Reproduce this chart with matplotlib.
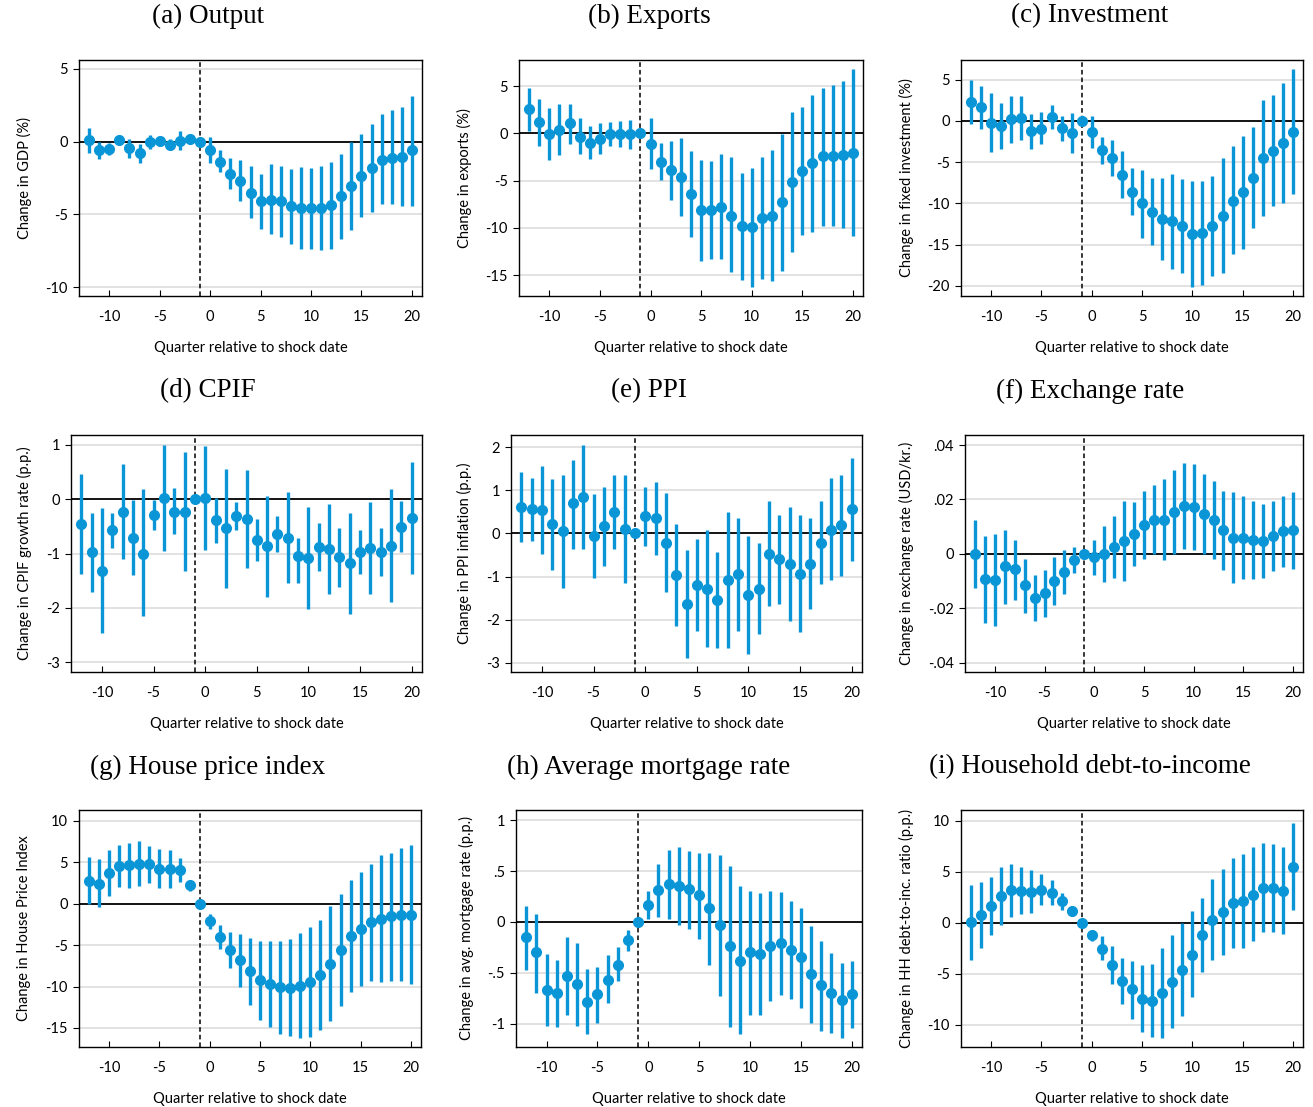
import numpy as np
import matplotlib
matplotlib.use("Agg")
import matplotlib.pyplot as plt

plt.rcParams["axes.unicode_minus"] = False

# event-time horizons (quarters relative to the shock)
quarters = list(range(-12, 21))

# estimated responses and 95% bands, one triple per outcome
gdp_b  = [0.1, -0.55, -0.5, 0.1, -0.45, -0.8, -0.05, 0.05, -0.25, 0.05, 0.2, 0.0,
          -0.55, -1.4, -2.2, -2.7, -3.5, -4.1, -4.0, -4.1, -4.45, -4.55, -4.55, -4.55,
          -4.35, -3.75, -3.05, -2.35, -1.8, -1.25, -1.15, -1.05, -0.6]
gdp_hi = [0.9, 0.0, -0.1, 0.3, 0.15, -0.15, 0.45, 0.3, 0.15, 0.7, 0.45, 0.0,
          0.3, -0.6, -1.1, -1.25, -1.7, -2.25, -1.55, -1.65, -1.9, -1.75, -1.8, -1.65,
          -1.4, -0.85, 0.0, 0.55, 1.2, 1.9, 2.15, 2.35, 3.15]
gdp_lo = [-0.75, -1.2, -0.95, -0.2, -1.15, -1.5, -0.5, -0.3, -0.6, -0.55, -0.2, 0.0,
          -1.45, -2.1, -3.25, -4.1, -5.25, -6.0, -6.35, -6.55, -7.05, -7.4, -7.35, -7.45,
          -7.35, -6.7, -6.05, -5.2, -4.8, -4.3, -4.3, -4.45, -4.4]

exp_b  = [2.55, 1.15, -0.05, 0.4, 1.05, -0.35, -1.0, -0.65, -0.05, -0.05, -0.1, 0.0,
          -1.1, -3.0, -3.85, -4.65, -6.45, -8.15, -8.15, -7.75, -8.7, -9.85, -9.9, -9.0,
          -8.7, -7.3, -5.15, -4.0, -3.15, -2.45, -2.4, -2.3, -2.05]
exp_hi = [4.8, 3.6, 2.65, 3.1, 3.15, 1.6, 0.8, 1.05, 1.15, 1.3, 1.4, 0.0,
          1.6, -1.05, -0.8, -0.45, -1.85, -2.8, -2.9, -2.2, -2.55, -4.15, -3.7, -2.55,
          -1.75, -0.1, 2.3, 2.8, 4.05, 4.75, 5.1, 5.55, 6.75]
exp_lo = [0.25, -1.3, -2.8, -2.3, -1.15, -2.2, -2.75, -2.2, -1.3, -1.5, -1.65, 0.0,
          -3.8, -4.95, -7.0, -8.75, -11.0, -13.45, -13.3, -13.3, -14.7, -15.5, -16.2, -15.4,
          -15.6, -14.6, -12.6, -10.75, -10.4, -9.75, -9.85, -10.05, -10.85]

inv_b  = [2.25, 1.65, -0.2, -0.6, 0.2, 0.4, -1.2, -0.95, 0.5, -0.85, -1.5, 0.0,
          -1.35, -3.5, -4.45, -6.55, -8.6, -10.0, -11.0, -11.9, -12.15, -12.75, -13.7, -13.65,
          -12.7, -11.5, -9.7, -8.65, -6.9, -4.45, -3.6, -2.7, -1.3]
inv_hi = [5.0, 4.25, 3.35, 2.2, 3.05, 3.05, 0.85, 1.05, 1.95, 0.65, 0.95, 0.0,
          0.55, -2.0, -2.3, -3.65, -5.75, -5.95, -6.95, -6.9, -6.45, -7.05, -7.3, -7.3,
          -6.7, -4.45, -3.05, -1.8, -0.75, 2.55, 3.15, 4.6, 6.3]
inv_lo = [-0.4, -0.95, -3.8, -3.45, -2.7, -2.3, -3.45, -2.85, -0.95, -2.4, -3.95, 0.0,
          -3.25, -5.2, -6.65, -9.4, -11.45, -14.15, -15.05, -16.9, -17.95, -18.4, -20.1, -19.9,
          -18.8, -18.4, -16.2, -15.55, -13.05, -11.5, -10.3, -9.9, -8.85]

cpif_b  = [-0.46, -0.98, -1.32, -0.57, -0.23, -0.71, -1.0, -0.29, 0.02, -0.23, -0.23, 0.0,
           0.02, -0.39, -0.54, -0.31, -0.37, -0.75, -0.87, -0.65, -0.71, -1.05, -1.09, -0.88,
           -0.92, -1.07, -1.18, -0.97, -0.9, -0.98, -0.86, -0.51, -0.34]
cpif_hi = [0.46, -0.25, -0.17, -0.25, 0.64, -0.02, 0.18, -0.01, 0.99, 0.2, 0.86, 0.0,
           0.98, 0.03, 0.55, -0.05, 0.53, -0.36, 0.06, -0.31, 0.13, -0.72, -0.15, -0.44,
           -0.09, -0.53, -0.26, -0.57, -0.05, -0.54, 0.18, -0.04, 0.68]
cpif_lo = [-1.37, -1.7, -2.46, -0.89, -1.1, -1.4, -2.15, -0.57, -0.95, -0.64, -1.33, 0.0,
           -0.94, -0.8, -1.63, -0.56, -1.26, -1.14, -1.8, -0.98, -1.54, -1.54, -2.02, -1.33,
           -1.75, -1.61, -2.12, -1.37, -1.75, -1.42, -1.9, -0.98, -1.37]

ppi_b  = [0.62, 0.57, 0.54, 0.21, 0.06, 0.7, 0.85, -0.06, 0.17, 0.5, 0.1, 0.0,
          0.4, 0.35, -0.22, -0.97, -1.64, -1.2, -1.28, -1.55, -1.09, -0.95, -1.42, -1.28,
          -0.47, -0.6, -0.71, -0.93, -0.7, -0.21, 0.09, 0.19, 0.57]
ppi_hi = [1.43, 1.3, 1.57, 1.26, 1.37, 1.72, 2.05, 0.91, 1.09, 1.36, 1.36, 0.0,
          1.09, 1.2, 0.93, 0.21, -0.39, -0.13, 0.09, -0.43, 0.49, 0.37, -0.06, -0.23,
          0.75, 0.43, 0.62, 0.43, 0.35, 0.76, 1.28, 1.37, 1.76]
ppi_lo = [-0.19, -0.17, -0.47, -0.84, -1.26, -0.35, -0.35, -1.03, -0.75, -0.35, -1.15, 0.0,
          -0.29, -0.5, -1.36, -2.15, -2.89, -2.27, -2.65, -2.66, -2.66, -2.27, -2.79, -2.33,
          -1.69, -1.63, -2.04, -2.29, -1.76, -1.18, -1.09, -0.98, -0.64]

fx_b  = [0.0, -0.0093, -0.0096, -0.0045, -0.0056, -0.0115, -0.0161, -0.0145, -0.0101, -0.0066, -0.0023, 0.0,
         -0.0012, 0.0, 0.0026, 0.0049, 0.0072, 0.0106, 0.0126, 0.0126, 0.0155, 0.0175, 0.0171, 0.0147,
         0.0124, 0.0087, 0.006, 0.006, 0.005, 0.0048, 0.0065, 0.0083, 0.0087]
fx_hi = [0.0126, 0.0066, 0.0072, 0.0087, 0.005, -0.0017, -0.0076, -0.0058, -0.0013, 0.0016, 0.0026, 0.0,
         0.005, 0.0102, 0.0139, 0.0195, 0.0189, 0.0231, 0.0253, 0.0274, 0.031, 0.0335, 0.033, 0.0292,
         0.0267, 0.0231, 0.0228, 0.0212, 0.0194, 0.0185, 0.0194, 0.0212, 0.0228]
fx_lo = [-0.0125, -0.0254, -0.0265, -0.0183, -0.0168, -0.0217, -0.0247, -0.0233, -0.0189, -0.0148, -0.0072, 0.0,
         -0.0076, -0.0103, -0.0088, -0.0099, -0.0045, -0.002, 0.0001, -0.0023, -0.0002, 0.0017, 0.0013, 0.0001,
         -0.002, -0.0058, -0.0107, -0.0093, -0.0093, -0.0088, -0.0064, -0.0048, -0.0054]

hpi_b  = [2.7, 2.4, 3.7, 4.5, 4.65, 4.75, 4.75, 4.15, 4.15, 4.05, 2.2, 0.0,
          -2.15, -4.05, -5.55, -6.85, -8.15, -9.25, -9.7, -10.1, -10.2, -9.9, -9.5, -8.6,
          -7.25, -5.55, -3.95, -3.0, -2.2, -1.8, -1.55, -1.35, -1.35]
hpi_hi = [5.65, 5.35, 6.45, 7.05, 7.35, 7.55, 7.0, 6.55, 6.45, 5.45, 2.8, 0.0,
          -1.2, -2.6, -3.4, -3.7, -4.1, -4.5, -4.5, -4.45, -4.3, -3.5, -2.8, -1.95,
          -0.3, 1.15, 2.8, 3.85, 4.75, 5.85, 6.15, 6.75, 7.05]
hpi_lo = [-0.1, -0.4, 0.95, 2.0, 1.9, 2.1, 2.55, 1.9, 1.9, 2.6, 1.55, 0.0,
          -3.0, -5.5, -7.8, -10.0, -12.2, -14.05, -14.85, -15.7, -16.0, -16.2, -16.05, -15.3,
          -14.2, -12.3, -10.7, -9.9, -9.35, -9.5, -9.3, -9.35, -9.7]

mort_b  = [-0.15, -0.3, -0.67, -0.7, -0.53, -0.61, -0.79, -0.71, -0.57, -0.42, -0.18, 0.0,
           0.17, 0.31, 0.37, 0.35, 0.32, 0.26, 0.14, -0.03, -0.24, -0.38, -0.3, -0.32,
           -0.24, -0.21, -0.28, -0.35, -0.51, -0.62, -0.7, -0.77, -0.71]
mort_hi = [0.16, 0.08, -0.32, -0.37, -0.15, -0.21, -0.46, -0.44, -0.33, -0.25, -0.08, 0.0,
           0.3, 0.57, 0.71, 0.74, 0.7, 0.68, 0.68, 0.66, 0.55, 0.35, 0.3, 0.28,
           0.3, 0.29, 0.21, 0.14, -0.04, -0.19, -0.31, -0.4, -0.38]
mort_lo = [-0.47, -0.7, -1.02, -1.03, -0.92, -1.02, -1.1, -0.99, -0.8, -0.58, -0.29, 0.0,
           0.03, 0.05, 0.03, -0.03, -0.07, -0.17, -0.42, -0.73, -1.03, -1.1, -0.92, -0.92,
           -0.78, -0.72, -0.76, -0.85, -0.99, -1.07, -1.09, -1.14, -1.04]

dti_b  = [0.03, 0.75, 1.6, 2.65, 3.2, 3.15, 3.05, 3.25, 2.95, 2.1, 1.1, 0.0,
          -1.25, -2.6, -4.15, -5.7, -6.55, -7.5, -7.65, -6.95, -5.8, -4.65, -3.15, -1.2,
          0.3, 1.0, 1.9, 2.15, 2.75, 3.4, 3.4, 3.15, 5.45]
dti_hi = [3.7, 3.95, 4.45, 5.5, 5.75, 5.5, 5.15, 4.75, 4.2, 2.9, 1.5, 0.0,
          -0.8, -1.35, -2.3, -3.45, -3.75, -4.15, -4.1, -2.5, -1.2, -0.05, 1.1, 2.4,
          4.3, 5.25, 6.35, 6.75, 7.4, 7.8, 7.7, 7.45, 9.75]
dti_lo = [-3.7, -2.5, -1.25, -0.25, 0.6, 0.8, 0.95, 1.75, 1.75, 1.25, 0.7, 0.0,
          -1.85, -3.7, -6.0, -8.0, -9.5, -10.75, -11.2, -11.3, -10.35, -9.2, -7.25, -4.85,
          -3.65, -3.15, -2.5, -2.5, -1.85, -0.95, -0.9, -1.1, 1.2]

titles = ["(a) Output", "(b) Exports", "(c) Investment",
          "(d) CPIF", "(e) PPI", "(f) Exchange rate",
          "(g) House price index", "(h) Average mortgage rate", "(i) Household debt-to-income"]
ylabels = ["Change in GDP (%)", "Change in exports (%)", "Change in fixed investment (%)",
           "Change in CPIF growth rate (p.p.)", "Change in PPI inflation (p.p.)",
           "Change in exchange rate (USD/kr.)",
           "Change in House Price Index", "Change in avg. mortgage rate (p.p.)",
           "Change in HH debt-to-inc. ratio (p.p.)"]
series = [(gdp_b, gdp_lo, gdp_hi), (exp_b, exp_lo, exp_hi), (inv_b, inv_lo, inv_hi),
          (cpif_b, cpif_lo, cpif_hi), (ppi_b, ppi_lo, ppi_hi), (fx_b, fx_lo, fx_hi),
          (hpi_b, hpi_lo, hpi_hi), (mort_b, mort_lo, mort_hi), (dti_b, dti_lo, dti_hi)]
yticks = [[-10, -5, 0, 5], [-15, -10, -5, 0, 5], [-20, -15, -10, -5, 0, 5],
          [-3, -2, -1, 0, 1], [-3, -2, -1, 0, 1, 2], [-0.04, -0.02, 0, 0.02, 0.04],
          [-15, -10, -5, 0, 5, 10], [-1, -0.5, 0, 0.5, 1], [-10, -5, 0, 5, 10]]
ytick_labels = [None, None, None, None, None, ["-.04", "-.02", "0", ".02", ".04"],
                None, ["-1", "-.5", "0", ".5", "1"], None]
ylims = [(-10.6, 5.6), (-17.2, 7.75), (-21.25, 7.4),
         (-3.18, 1.18), (-3.22, 2.29), (-0.0434, 0.0437),
         (-17.3, 11.3), (-1.23, 1.1), (-12.2, 11.05)]

# axes boxes in pixels: left, right, top, bottom
boxes = [(79, 422, 60, 296), (519, 863, 60, 296), (961, 1303, 60, 296),
         (71, 422, 435, 672), (511, 862, 435, 672), (965, 1303, 435, 672),
         (79, 421, 810, 1047), (516, 862, 810, 1047), (961, 1303, 810, 1047)]
title_x = [208, 649, 1090]
title_y = [16, 391, 767]

W, H = 1313, 1107
blue = "#0a96d6"
sans = ["Lato", "DejaVu Sans"]

fig = plt.figure(figsize=(W / 100, H / 100), dpi=100)

for i in range(9):
    l, r, t, b = boxes[i]
    ax = fig.add_axes([l / W, 1 - b / H, (r - l) / W, (b - t) / H])
    coef, lo, hi = [np.array(s) for s in series[i]]
    x = np.array(quarters)

    for yt in yticks[i]:
        if yt != 0:
            ax.axhline(yt, color="#dddddd", lw=1.2, zorder=0)
    ax.axhline(0, color="black", lw=1.3, zorder=1)
    ax.axvline(-1, color="black", lw=1.1, ls=(0, (3, 2)), zorder=1)

    ax.vlines(x, lo, hi, color=blue, lw=2.4, zorder=2)
    ax.plot(x, coef, "o", color=blue, ms=7, zorder=3)

    ax.set_xlim(-13, 21)
    ax.set_ylim(*ylims[i])
    ax.set_xticks(range(-10, 21, 5))
    ax.set_yticks(yticks[i])
    if ytick_labels[i]:
        ax.set_yticklabels(ytick_labels[i])
    ax.tick_params(axis="x", direction="in", length=4, pad=10, labelsize=10.5)
    ax.tick_params(axis="y", direction="out", length=4, pad=4, labelsize=10.5)
    for lab in ax.get_xticklabels() + ax.get_yticklabels():
        lab.set_family(sans)
    for sp in ax.spines.values():
        sp.set_linewidth(1.0)
    ax.set_xlabel("Quarter relative to shock date", family=sans, fontsize=10.5, labelpad=12)
    ax.set_ylabel(ylabels[i], family=sans, fontsize=10.5, labelpad=10)

    fig.text(title_x[i % 3] / W, 1 - title_y[i // 3] / H, titles[i],
             family=["Liberation Serif", "DejaVu Serif"], fontsize=19.5,
             ha="center", va="center")

fig.savefig("out.png", dpi=100)
